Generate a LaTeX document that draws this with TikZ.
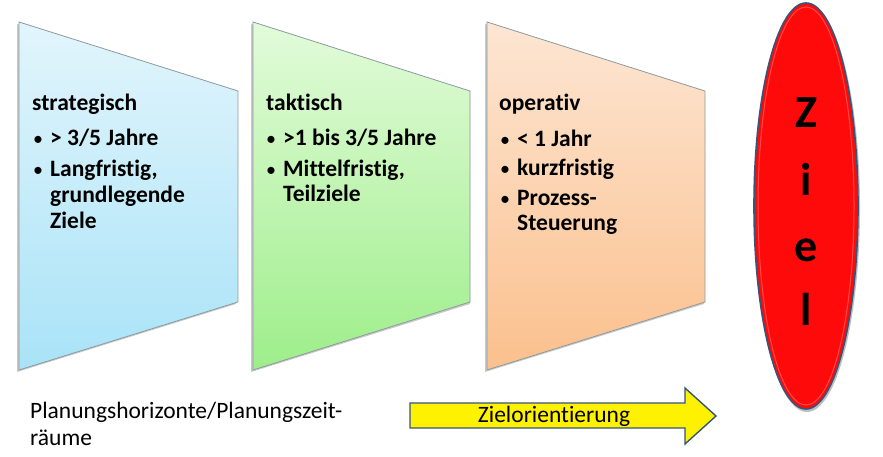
\documentclass[tikz,border=0pt]{standalone}
\usepackage{fontspec}
\setmainfont[Ligatures=NoCommon]{Carlito}
\usetikzlibrary{shapes.geometric}
\definecolor{bluetop}{HTML}{E2F5FC}
\definecolor{bluebot}{HTML}{A9E3F7}
\definecolor{greentop}{HTML}{E2FBDA}
\definecolor{greenbot}{HTML}{9EEE8A}
\definecolor{orangetop}{HTML}{FDE6D3}
\definecolor{orangebot}{HTML}{FBC08D}
\definecolor{edgegray}{HTML}{8C9AA0}
\definecolor{darkblue}{HTML}{35557A}
\definecolor{zielred}{HTML}{FF0A0A}
\newcommand{\smbul}{{\mdseries\fontsize{20}{20}\selectfont\textbullet}}
\begin{document}
\begin{tikzpicture}[x=1pt,y=-1pt,
  txt/.style={inner sep=0pt,anchor=base west,font=\fontsize{23.5}{27}\selectfont\bfseries},
  plain/.style={inner sep=0pt,anchor=base west,font=\fontsize{23.5}{27}\selectfont},
  shadowbox/.style={fill=black!35,draw=none},
  letter/.style={inner sep=0pt,font=\fontsize{46}{46}\selectfont\bfseries}]
\useasboundingbox (0,0) rectangle (883,457);
\fill[white] (0,0) rectangle (883,457);
% shadows
\foreach \dx in {0,234,468}{
  \fill[shadowbox,opacity=0.6] (19+\dx-2,24) -- (238+\dx-2,93) -- (238+\dx-2,304) -- (19+\dx-2,372) -- cycle;
}
% trapezoids
\shade[top color=bluetop,bottom color=bluebot,draw=edgegray,line width=0.8pt]
  (19,22) -- (238,91) -- (238,302) -- (19,370) -- cycle;
\shade[top color=greentop,bottom color=greenbot,draw=edgegray,line width=0.8pt]
  (253,22) -- (470,91) -- (470,302) -- (253,370) -- cycle;
\shade[top color=orangetop,bottom color=orangebot,draw=edgegray,line width=0.8pt]
  (487,22) -- (705,91) -- (705,302) -- (487,370) -- cycle;
% blue text
\node[txt] (s0) at (32,111) {strategisch};
\node[txt] (s1b) at (33,146) {\smbul};
\node[txt] (s1) at (50,146) {> 3/5 Jahre};
\node[txt] (s2b) at (33,177) {\smbul};
\node[txt] (s2) at (50,177) {Langfristig,};
\node[txt] (s3) at (50,203) {grundlegende};
\node[txt] (s4) at (50,228) {Ziele};
% green text
\node[txt] (t0) at (266,111) {taktisch};
\node[txt] (t1b) at (266,146) {\smbul};
\node[txt] (t1) at (283,146) {>1 bis 3/5 Jahre};
\node[txt] (t2b) at (266,177) {\smbul};
\node[txt] (t2) at (283,177) {Mittelfristig,};
\node[txt] (t3) at (283,202) {Teilziele};
% orange text
\node[txt] (o0) at (499,111) {operativ};
\node[txt] (o1b) at (500,147) {\smbul};
\node[txt] (o1) at (517,147) {< 1 Jahr};
\node[txt] (o2b) at (500,176) {\smbul};
\node[txt] (o2) at (517,176) {kurzfristig};
\node[txt] (o3b) at (500,205) {\smbul};
\node[txt] (o3) at (517,205) {Prozess-};
\node[txt] (o4) at (517,230) {Steuerung};
% ellipse
\fill[black!25] (807,208) ellipse [x radius=53,y radius=204];
\draw[fill=zielred,draw=darkblue,line width=1.6pt] (806,206) ellipse [x radius=52,y radius=203];
\draw[red!60!white,line width=1pt,opacity=0.7] (806,206) ellipse [x radius=48,y radius=199];
\node[letter] (z1) at (806,113) {Z};
\node[letter] (z2) at (806,179) {i};
\node[letter] (z3) at (806,250) {e};
\node[letter] (z4) at (806,309) {l};
% arrow
\draw[fill=yellow,draw=darkblue,line width=1.4pt,line join=miter]
  (410,403) -- (685,403) -- (685,388) -- (716,416) -- (685,444) -- (685,428) -- (410,428) -- cycle;
\node[inner sep=0pt,font=\fontsize{23.5}{27}\selectfont] (zo) at (554,416) {Zielorientierung};
% bottom text
\node[plain] (p1) at (30,418) {Planungshorizonte/Planungszeit-};
\node[plain] (p2) at (30,445) {räume};
\end{tikzpicture}
\end{document}
